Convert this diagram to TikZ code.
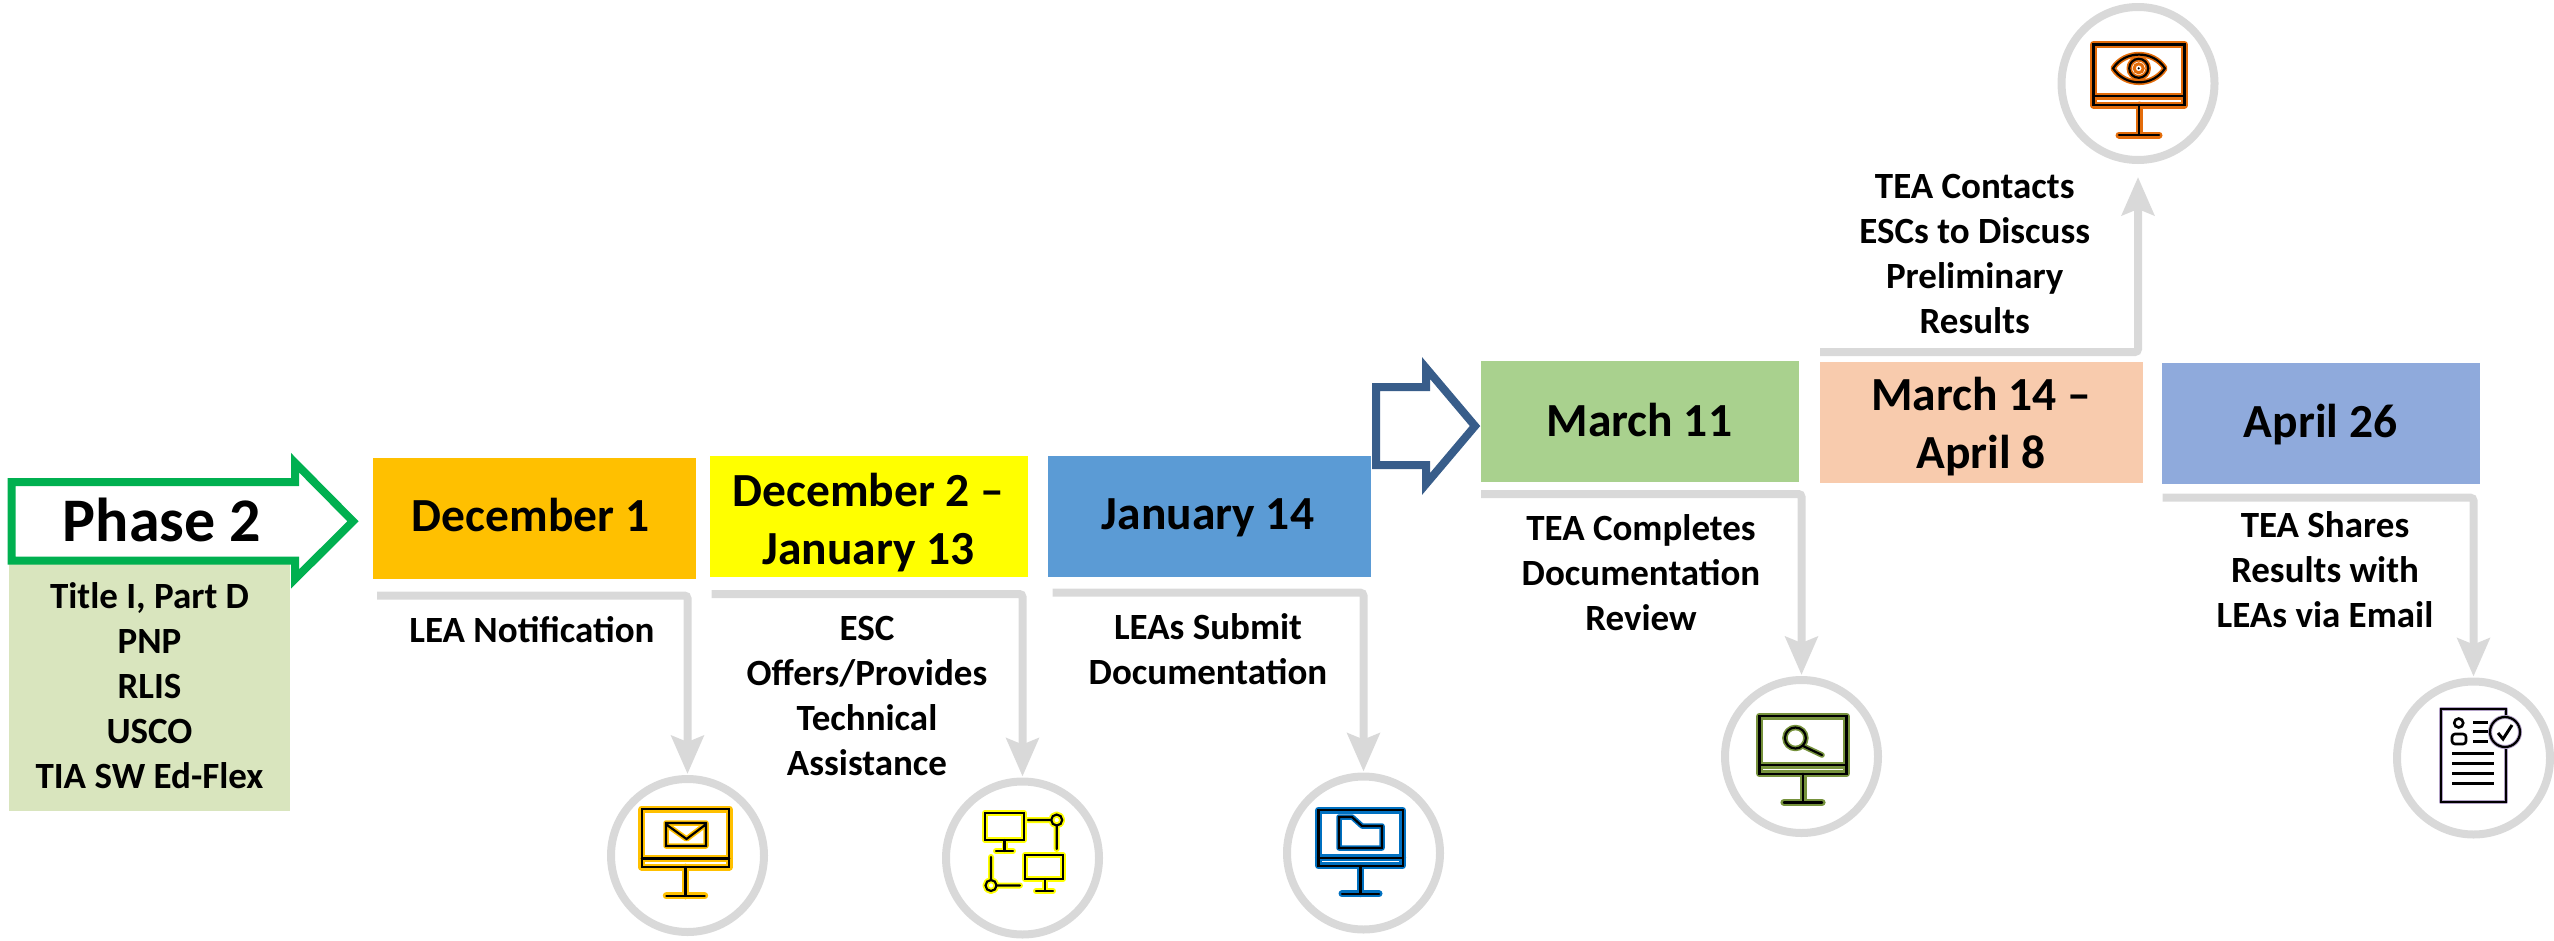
\documentclass[tikz,border=0pt]{standalone}
\usepackage{fontspec}
\setmainfont{Carlito}
\usetikzlibrary{arrows.meta}
\definecolor{gr}{HTML}{D9D9D9}
\definecolor{cgold}{HTML}{FFC000}
\definecolor{cyel}{HTML}{FFFF00}
\definecolor{cblue}{HTML}{5B9BD5}
\definecolor{cgreen}{HTML}{A9D18E}
\definecolor{cpeach}{HTML}{F8CBAD}
\definecolor{cperi}{HTML}{8FAADC}
\definecolor{cpale}{HTML}{D9E5BE}
\definecolor{cphase}{HTML}{00B050}
\definecolor{cnavy}{HTML}{385D8A}
\definecolor{ifold}{HTML}{0070C0}
\definecolor{imag}{HTML}{76923C}
\definecolor{ieye}{HTML}{E36C0A}
\definecolor{idoc}{HTML}{B3A2C7}
\newcommand{\duo}[3][7]{%
  \draw[line width=#1pt,#2,line cap=round,line join=round] #3;
  \draw[line width=2.2pt,black,line cap=round,line join=miter] #3;}
\newcommand{\monitor}[4]{%
  \begin{scope}[shift={(#2,#3)},scale=#4]
  \duo{#1}{(-45.5,0) rectangle (45.5,60.5) (-45.5,51.5) -- (45.5,51.5) (0,60.5) -- (0,90.5) (-20,90.5) -- (20,90.5)}
  \end{scope}}
\tikzset{
  x=1pt,y=-1pt,
  datetext/.style={font=\bfseries\fontsize{47.5}{58}\selectfont,anchor=base,align=center,inner sep=0pt},
  labeltext/.style={font=\bfseries\fontsize{37}{44.8}\selectfont,anchor=base,align=center,inner sep=0pt},
  ring/.style={circle,draw=gr,line width=8pt,minimum size=153pt,inner sep=0pt},
  conn/.style={draw=gr,line width=8pt,rounded corners=3pt,-{Stealth[width=32pt,length=38pt,inset=6pt]},shorten >=1pt},
  bigarrow/.style={line width=8pt,line join=miter,miter limit=20,fill=white}
}
\begin{document}
\begin{tikzpicture}
\useasboundingbox (0,0) rectangle (2554,940);
% boxes
\fill[cpale] (9,560) rectangle (290,811);
\fill[cgold] (373,458) rectangle (696,579);
\fill[cyel] (710,456) rectangle (1028,577);
\fill[cblue] (1048,456) rectangle (1371,577);
\fill[cgreen] (1481,361) rectangle (1799,482);
\fill[cpeach] (1820,362) rectangle (2143,483);
\fill[cperi] (2162,363) rectangle (2480,484);
% big arrows
\draw[bigarrow,draw=cphase] (11.5,482) -- (295,482) -- (295,462.7) -- (353,521.3) -- (295,579) -- (295,560.5) -- (11.5,560.5) -- cycle;
\draw[bigarrow,draw=cnavy] (1376,387) -- (1426,387) -- (1426,368) -- (1475,426) -- (1426,484) -- (1426,465) -- (1376,465) -- cycle;
% texts
\node[font=\bfseries\fontsize{62}{62}\selectfont,anchor=base,inner sep=0pt] (phase) at (162,541.7) {Phase 2};
\node[labeltext] (prog) at (149.5,788) {Title I, Part D\\PNP\\RLIS\\USCO\\TIA SW Ed-Flex};
\node[datetext] (d1) at (530.6,531.7) {December 1};
\node[datetext] (d2) at (868.5,564) {December 2 –\\January 13};
\node[datetext] (d3) at (1208,529) {January 14};
\node[datetext] (d4) at (1639.4,436) {March 11};
\node[datetext] (d5) at (1981,468) {March 14 –\\April 8};
\node[datetext] (d6) at (2320.6,437.5) {April 26};
\node[labeltext] (l1) at (532,642) {LEA Notification};
\node[labeltext] (l2) at (867,775) {ESC\\Offers/Provides\\Technical\\Assistance};
\node[labeltext] (l3) at (1208,684) {LEAs Submit\\Documentation};
\node[labeltext] (l4) at (1641,630) {TEA Completes\\Documentation\\Review};
\node[labeltext] (l5) at (1974.7,333) {TEA Contacts\\ESCs to Discuss\\Preliminary\\Results};
\node[labeltext] (l6) at (2325,627) {TEA Shares\\Results with\\LEAs via Email};
% rings
\node[ring] (c1) at (687.5,855.5) {};
\node[ring] (c2) at (1022.5,858) {};
\node[ring] (c3) at (1363.5,853) {};
\node[ring] (c4) at (1801.5,756.5) {};
\node[ring] (c5) at (2138,83.5) {};
\node[ring] (c6) at (2473.5,758) {};
% connectors
\coordinate (s1) at (377,595.5);
\coordinate (s2) at (711.6,594);
\coordinate (s3) at (1052.7,592.7);
\coordinate (s4) at (1481,494);
\coordinate (s5) at (1820,352);
\coordinate (s6) at (2162.5,497.7);
\draw[conn] (s1) -| (c1.north);
\draw[conn] (s2) -| (c2.north);
\draw[conn] (s3) -| (c3.north);
\draw[conn] (s4) -| (c4.north);
\draw[conn,shorten >=13pt] (s5) -| (c5.south);
\draw[conn] (s6) -| (c6.north);
% icon 1: mail monitor
\monitor{cgold}{685.5}{809}{.96}
\duo[5.5]{cgold}{(666,823) rectangle (706,846) (667,825) -- (686.5,839) -- (705,825)}
% icon 2: network
\duo[6]{cyel}{(985,813) rectangle (1024,840) (1004.5,840) -- (1004.5,851) (996,851) -- (1013,851)}
\duo[6]{cyel}{(1025,855) rectangle (1063,879) (1044.6,879) -- (1044.6,891) (1036,891) -- (1053,891)}
\duo[6]{cyel}{(1028,820) -- (1051,820) (1056.7,826) -- (1056.7,849) (1056.7,820) circle (5.5)}
\duo[6]{cyel}{(991,857) -- (991,880) (997,885.5) -- (1020,885.5) (991,885.5) circle (5.5)}
% icon 3: folder monitor
\monitor{ifold}{1360.5}{810}{.925}
\duo[5.5]{ifold}{(1339,817) -- (1352,817) -- (1362,826) -- (1382,826) -- (1382,848) -- (1339,848) -- cycle}
% icon 4: magnifier monitor
\monitor{imag}{1803}{716}{.955}
\duo[5.5]{imag}{(1795.4,738) circle (10.5) (1803,746) -- (1822,755)}
% icon 5: eye monitor
\monitor{ieye}{2139}{44.5}{1}
\duo[5.5]{ieye}{(2113,68.3) .. controls (2125,50) and (2153,50) .. (2165,68.3) .. controls (2153,87) and (2125,87) .. (2113,68.3) -- cycle (2138.7,68.3) circle (9.5)}
\draw[ieye,line width=3pt] (2138.7,68.3) circle (4.5);
\fill[black] (2138.7,68.3) circle (1.2);
% icon 6: document
\duo[4]{idoc}{(2506,748) -- (2506,802) -- (2441,802) -- (2441,709) -- (2506,709) -- (2506,715)}
\duo[4]{idoc}{(2505,732) circle (15)}
\draw[line width=3pt,black,line join=miter] (2498,733) -- (2503,739) -- (2512,725);
\draw[line width=2.6pt,black] (2458.7,723) circle (4.5);
\draw[line width=2.6pt,black,rounded corners=3pt] (2452,744) -- (2452,734) -- (2466,734) -- (2466,744) -- cycle;
\draw[line width=3pt,black] (2473,722) -- (2488,722) (2473,731) -- (2488,731) (2473,741) -- (2488,741)
  (2452,753) -- (2494,753) (2452,763) -- (2494,763) (2452,773) -- (2494,773) (2452,783) -- (2494,783);
\end{tikzpicture}
\end{document}
